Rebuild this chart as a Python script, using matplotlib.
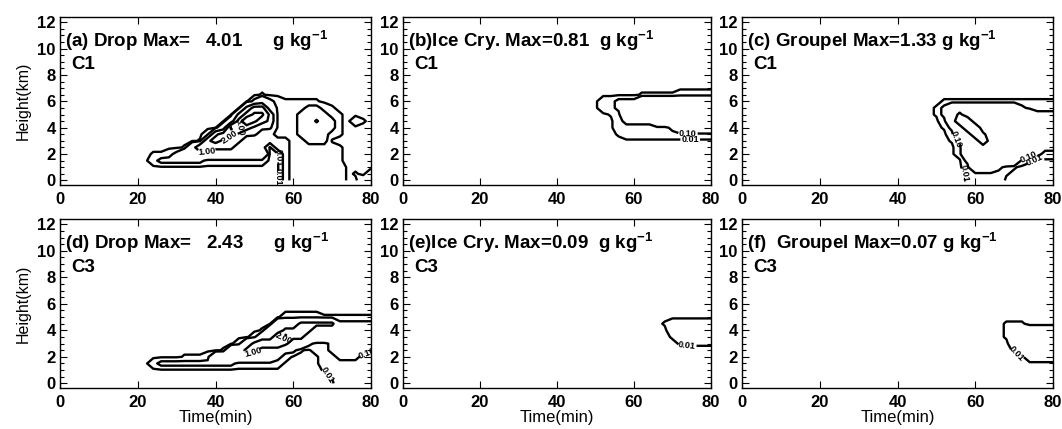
import numpy as np
import matplotlib
matplotlib.use('Agg')
import matplotlib.pyplot as plt
from matplotlib.ticker import MultipleLocator

plt.rcParams['font.family'] = 'Liberation Sans'
plt.rcParams['font.weight'] = 'bold'
plt.rcParams['mathtext.fontset'] = 'custom'
plt.rcParams['mathtext.rm'] = 'Liberation Sans:bold'
plt.rcParams['mathtext.bf'] = 'Liberation Sans:bold'
plt.rcParams['mathtext.default'] = 'rm'

# grid of the fields: time every 2 min, height every 0.5 km (0 - 7 km)
time = np.arange(0, 81, 2)
height = np.arange(0, 7.01, 0.5)

# mixing ratio class of each cell (g/kg)
code_value = {'0': 0.0, '1': 0.015, '2': 0.05, '3': 0.15, '4': 0.5,
              '5': 1.2, '6': 1.8, '7': 2.4, '8': 3.2, '9': 4.0}

# rows from 7.0 km (top) down to 0 km, columns t = 0..80 in groups of 5
drop_c1 = [
    "00000 00000 00000 00000 00000 00000 00000 00000 0",
    "00000 00000 00000 00000 00000 01000 00000 00000 0",
    "00000 00000 00000 00000 00000 34321 11110 00000 0",
    "00000 00000 00000 00000 00005 77422 22332 10000 0",
    "00000 00000 00000 00000 00057 88622 23333 21000 0",
    "00000 00000 00000 00000 00479 87622 23353 31021 0",
    "00000 00000 00000 00000 04887 65522 23333 31000 0",
    "00000 00000 00000 00002 67765 54322 23333 21000 0",
    "00000 00000 00000 00016 76554 33333 22333 00000 0",
    "00000 00000 00000 01466 55544 33033 22222 21000 0",
    "00000 00000 00112 34444 44444 44003 22222 21000 0",
    "00000 00000 00233 33332 22222 22003 22222 21000 0",
    "00000 00000 00000 00000 00000 00003 22222 22000 0",
    "00000 00000 00000 00000 00000 00003 22222 22010 2",
    "00000 00000 00000 00000 00000 00003 22222 22002 2",
]

ice_c1 = [
    "00000 00000 00000 00000 00000 00000 00000 00000 0",
    "00000 00000 00000 00000 00000 00000 01111 12222 2",
    "00000 00000 00000 00000 00000 02233 34444 44444 4",
    "00000 00000 00000 00000 00000 02234 44444 44444 4",
    "00000 00000 00000 00000 00000 00124 44444 44444 4",
    "00000 00000 00000 00000 00000 00023 33344 44444 4",
    "00000 00000 00000 00000 00000 00022 22222 34444 4",
    "00000 00000 00000 00000 00000 00012 22222 22222 2",
    "00000 00000 00000 00000 00000 00000 00000 00000 0",
    "00000 00000 00000 00000 00000 00000 00000 00000 0",
    "00000 00000 00000 00000 00000 00000 00000 00000 0",
    "00000 00000 00000 00000 00000 00000 00000 00000 0",
    "00000 00000 00000 00000 00000 00000 00000 00000 0",
    "00000 00000 00000 00000 00000 00000 00000 00000 0",
    "00000 00000 00000 00000 00000 00000 00000 00000 0",
]

graupel_c1 = [
    "00000 00000 00000 00000 00000 00000 00000 00000 0",
    "00000 00000 00000 00000 00000 00000 00000 00000 0",
    "00000 00000 00000 00000 00000 01111 11111 11111 1",
    "00000 00000 00000 00000 00000 13444 44444 43222 2",
    "00000 00000 00000 00000 00000 13454 44444 44433 3",
    "00000 00000 00000 00000 00000 02466 44444 44444 4",
    "00000 00000 00000 00000 00000 01346 64444 44444 4",
    "00000 00000 00000 00000 00000 00244 65444 44444 4",
    "00000 00000 00000 00000 00000 00134 46444 44444 4",
    "00000 00000 00000 00000 00000 00024 44444 44443 3",
    "00000 00000 00000 00000 00000 00024 44444 44332 2",
    "00000 00000 00000 00000 00000 00003 44444 42100 0",
    "00000 00000 00000 00000 00000 00002 44432 10000 0",
    "00000 00000 00000 00000 00000 00001 22221 00000 0",
    "00000 00000 00000 00000 00000 00001 22220 00000 0",
]

drop_c3 = [
    "00000 00000 00000 00000 00000 00000 00000 00000 0",
    "00000 00000 00000 00000 00000 00000 00000 00000 0",
    "00000 00000 00000 00000 00000 00000 00000 00000 0",
    "00000 00000 00000 00000 00000 00000 00000 00000 0",
    "00000 00000 00000 00000 00000 00002 22221 11111 1",
    "00000 00000 00000 00000 00000 00044 45555 53333 3",
    "00000 00000 00000 00000 00000 01445 55544 43333 3",
    "00000 00000 00000 00000 00000 24467 55444 43333 3",
    "00000 00000 00000 00000 00024 56665 44322 33333 3",
    "00000 00000 00000 00000 01445 54443 31022 33333 3",
    "00000 00000 00000 01112 44444 44432 00002 23332 2",
    "00000 00000 00233 33333 33322 22220 00002 22222 2",
    "00000 00000 00000 00000 00000 00000 00001 22222 2",
    "00000 00000 00000 00000 00000 00000 00000 12222 2",
    "00000 00000 00000 00000 00000 00000 00000 02222 2",
]

ice_c3 = [
    "00000 00000 00000 00000 00000 00000 00000 00000 0",
    "00000 00000 00000 00000 00000 00000 00000 00000 0",
    "00000 00000 00000 00000 00000 00000 00000 00000 0",
    "00000 00000 00000 00000 00000 00000 00000 00000 0",
    "00000 00000 00000 00000 00000 00000 00000 00000 0",
    "00000 00000 00000 00000 00000 00000 00001 22222 2",
    "00000 00000 00000 00000 00000 00000 00000 22222 2",
    "00000 00000 00000 00000 00000 00000 00000 12222 2",
    "00000 00000 00000 00000 00000 00000 00000 01111 1",
    "00000 00000 00000 00000 00000 00000 00000 00000 0",
    "00000 00000 00000 00000 00000 00000 00000 00000 0",
    "00000 00000 00000 00000 00000 00000 00000 00000 0",
    "00000 00000 00000 00000 00000 00000 00000 00000 0",
    "00000 00000 00000 00000 00000 00000 00000 00000 0",
    "00000 00000 00000 00000 00000 00000 00000 00000 0",
]

graupel_c3 = [
    "00000 00000 00000 00000 00000 00000 00000 00000 0",
    "00000 00000 00000 00000 00000 00000 00000 00000 0",
    "00000 00000 00000 00000 00000 00000 00000 00000 0",
    "00000 00000 00000 00000 00000 00000 00000 00000 0",
    "00000 00000 00000 00000 00000 00000 00000 00000 0",
    "00000 00000 00000 00000 00000 00000 00001 11000 0",
    "00000 00000 00000 00000 00000 00000 00001 22222 2",
    "00000 00000 00000 00000 00000 00000 00001 22222 2",
    "00000 00000 00000 00000 00000 00000 00000 22222 2",
    "00000 00000 00000 00000 00000 00000 00000 12222 2",
    "00000 00000 00000 00000 00000 00000 00000 00222 2",
    "00000 00000 00000 00000 00000 00000 00000 00000 0",
    "00000 00000 00000 00000 00000 00000 00000 00000 0",
    "00000 00000 00000 00000 00000 00000 00000 00000 0",
    "00000 00000 00000 00000 00000 00000 00000 00000 0",
]

fields = [drop_c1, ice_c1, graupel_c1, drop_c3, ice_c3, graupel_c3]
levels = [[0.01, 0.1, 1.0, 2.0, 3.0], [0.01, 0.1], [0.01, 0.1, 1.0],
          [0.01, 0.1, 1.0, 2.0, 3.0], [0.01, 0.1], [0.01, 0.1, 1.0]]

titles = ["(a) Drop Max=   4.01      g kg$^{-1}$",
          "(b)Ice Cry. Max=0.81  g kg$^{-1}$",
          "(c) Groupel Max=1.33 g kg$^{-1}$",
          "(d) Drop Max=   2.43      g kg$^{-1}$",
          "(e)Ice Cry. Max=0.09  g kg$^{-1}$",
          "(f)  Groupel Max=0.07 g kg$^{-1}$"]
cases = ["C1", "C1", "C1", "C3", "C3", "C3"]

# where the contour labels sit
label_pos = [
    [(37.7, 2.2), (43.7, 3.3), (47.0, 4.1), (56.7, 1.7), (56.1, 0.3)],
    [(74.0, 3.6), (74.6, 3.0)],
    [(54.5, 3.1), (57.0, 0.5), (73.8, 1.75), (75.5, 1.3)],
    [(49.7, 2.1), (57.3, 3.35), (68.5, 0.6), (79.0, 2.25)],
    [(73.7, 2.85)],
    [(70.5, 2.2)],
]


def decode(rows):
    grid = [[code_value[c] for c in r.replace(' ', '')] for r in rows]
    return np.array(grid[::-1])


fig = plt.figure(figsize=(10.62, 4.29), dpi=100)
W, H = 1062.0, 429.0
cols_px = [(60, 371), (403, 711), (742, 1053)]
rows_px = [(17, 185), (219, 388)]

for k in range(6):
    r, c = divmod(k, 3)
    x0, x1 = cols_px[c]
    y0, y1 = rows_px[r]
    ax = fig.add_axes([x0 / W, 1 - y1 / H, (x1 - x0) / W, (y1 - y0) / H])
    z = decode(fields[k])
    cs = ax.contour(time, height, z, levels=levels[k], colors='k',
                    linewidths=1.7)
    ax.clabel(cs, fmt='%.2f', fontsize=6.5, inline=True, inline_spacing=1,
              manual=label_pos[k])

    ax.set_xlim(0, 80)
    ax.set_ylim(-0.35, 12.4)
    ax.xaxis.set_major_locator(MultipleLocator(20))
    ax.yaxis.set_major_locator(MultipleLocator(2))
    ax.yaxis.set_minor_locator(MultipleLocator(0.5))
    ax.tick_params(which='both', direction='in', top=True, right=True,
                   labelsize=12, width=0.8)
    ax.tick_params(which='major', length=5)
    ax.tick_params(which='minor', length=3)
    ax.tick_params(axis='x', pad=5)
    ax.tick_params(axis='y', pad=3)
    for s in ax.spines.values():
        s.set_linewidth(1.0)

    ax.text(0.015, 0.86, titles[k], transform=ax.transAxes, fontsize=13.5,
            va='center', ha='left')
    ax.text(0.035, 0.715, cases[k], transform=ax.transAxes, fontsize=13.5,
            va='center', ha='left')
    if c == 0:
        ax.set_ylabel('Height(km)', fontsize=11.5, labelpad=5)
    if r == 1:
        ax.set_xlabel('Time(min)', fontsize=12, labelpad=0)

fig.savefig('out.png', dpi=100)
